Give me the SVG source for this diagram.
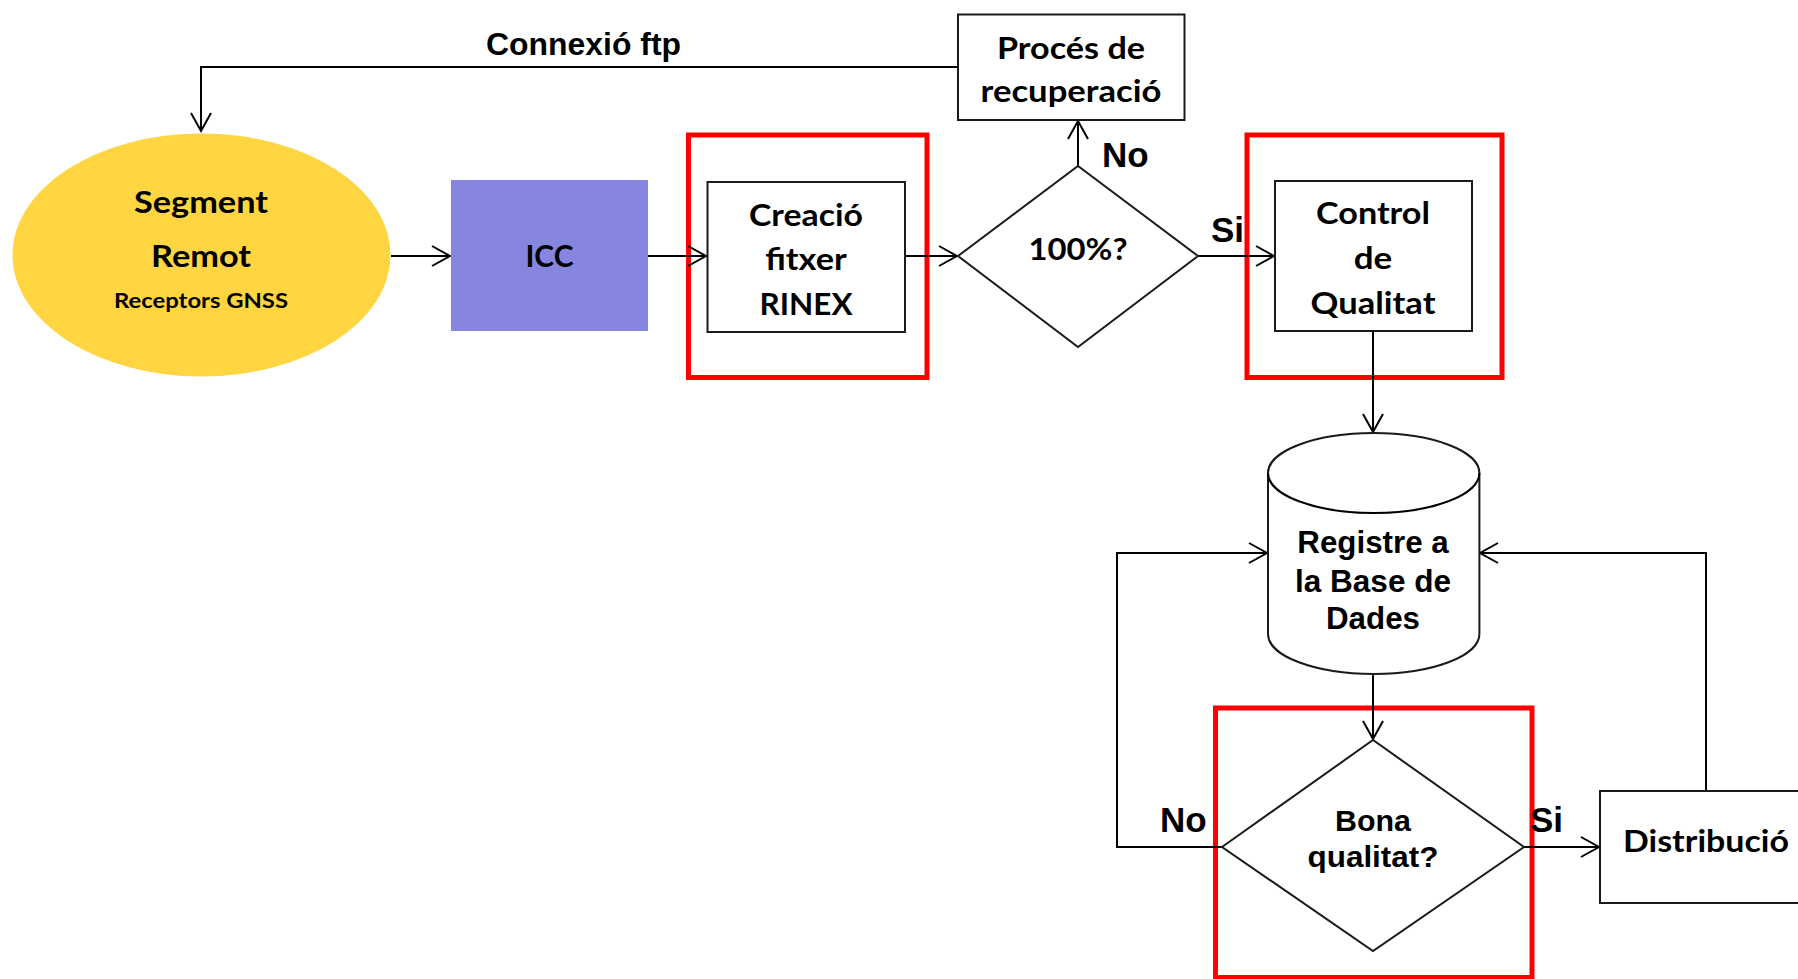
<svg xmlns="http://www.w3.org/2000/svg" width="1798" height="979" viewBox="0 0 1798 979">
<style>
.box{fill:#fff;stroke:#1a1a1a;stroke-width:2}
.red{fill:none;stroke:#ff0000;stroke-width:5}
.ln{fill:none;stroke:#000;stroke-width:2}
.c{font-family:Lato,"Open Sans","Liberation Sans",sans-serif;font-weight:bold;font-size:31px;fill:#000;text-anchor:middle}
.a{font-family:"Liberation Sans",Arial,sans-serif;font-weight:bold;fill:#000}
</style>
<defs>
<marker id="arr" markerUnits="userSpaceOnUse" viewBox="-20 -12 24 24" refX="0" refY="0" markerWidth="24" markerHeight="24" orient="auto">
<path d="M-18,-10 L0,0 L-18,10" fill="none" stroke="#000" stroke-width="2"/>
</marker>
</defs>
<rect width="1798" height="979" fill="#fff"/>

<g id="highlights">
<rect class="red" x="688.5" y="135" width="238.5" height="242.5"/>
<rect class="red" x="1247" y="135" width="255" height="242.5"/>
<rect class="red" x="1215.5" y="708" width="316.5" height="269.5"/>
</g>

<g id="connectors">
<polyline class="ln" points="958,67 201,67 201,131" marker-end="url(#arr)"/>
<line class="ln" x1="391" y1="256" x2="450" y2="256" marker-end="url(#arr)"/>
<line class="ln" x1="648" y1="256" x2="706" y2="256" marker-end="url(#arr)"/>
<line class="ln" x1="905" y1="256" x2="957" y2="256" marker-end="url(#arr)"/>
<line class="ln" x1="1078" y1="166" x2="1078" y2="121" marker-end="url(#arr)"/>
<line class="ln" x1="1198" y1="256" x2="1274" y2="256" marker-end="url(#arr)"/>
<line class="ln" x1="1373" y1="331" x2="1373" y2="432" marker-end="url(#arr)"/>
<line class="ln" x1="1373" y1="674" x2="1373" y2="739" marker-end="url(#arr)"/>
<polyline class="ln" points="1222,847 1117,847 1117,553 1267,553" marker-end="url(#arr)"/>
<line class="ln" x1="1524" y1="847" x2="1599" y2="847" marker-end="url(#arr)"/>
<polyline class="ln" points="1706,791 1706,553 1480,553" marker-end="url(#arr)"/>
</g>

<g id="segment-remot">
<ellipse cx="201.5" cy="255" rx="189" ry="121.5" fill="#ffd541"/>
<text class="c" x="201" y="213" textLength="134" lengthAdjust="spacingAndGlyphs">Segment</text>
<text class="c" x="201" y="267" textLength="100" lengthAdjust="spacingAndGlyphs">Remot</text>
<text class="c" x="201" y="308" style="font-size:21px" textLength="174" lengthAdjust="spacingAndGlyphs">Receptors GNSS</text>
</g>

<g id="icc">
<rect x="451" y="180" width="197" height="151" fill="#8686e0"/>
<text class="c" x="549.5" y="267" textLength="48" lengthAdjust="spacingAndGlyphs">ICC</text>
</g>

<g id="creacio">
<rect class="box" x="707.5" y="182" width="197.5" height="150"/>
<text class="c" x="806" y="226" textLength="114" lengthAdjust="spacingAndGlyphs">Creació</text>
<text class="c" x="806" y="270" textLength="81.5" lengthAdjust="spacingAndGlyphs">fitxer</text>
<text class="c" x="806" y="315" textLength="93" lengthAdjust="spacingAndGlyphs">RINEX</text>
</g>

<g id="proces">
<rect class="box" x="958" y="14.5" width="226.5" height="105.5"/>
<text class="c" x="1071" y="59" textLength="148" lengthAdjust="spacingAndGlyphs">Procés de</text>
<text class="c" x="1071" y="102" textLength="181" lengthAdjust="spacingAndGlyphs">recuperació</text>
</g>

<g id="decision-100">
<polygon class="box" points="958,256 1078,166 1198,256 1078,347"/>
<text class="c" x="1078" y="260" textLength="99" lengthAdjust="spacingAndGlyphs">100%?</text>
</g>

<g id="control">
<rect class="box" x="1275" y="181" width="197" height="150"/>
<text class="c" x="1373" y="224" textLength="114" lengthAdjust="spacingAndGlyphs">Control</text>
<text class="c" x="1373" y="269" textLength="38.5" lengthAdjust="spacingAndGlyphs">de</text>
<text class="c" x="1373" y="314" textLength="125" lengthAdjust="spacingAndGlyphs">Qualitat</text>
</g>

<g id="base-dades">
<path class="box" d="M1268,473 A105.7,40 0 0,1 1479.4,473 L1479.4,634 A105.7,40 0 0,1 1268,634 Z"/>
<path class="ln" d="M1268,473 A105.7,40 0 0,0 1479.4,473"/>
<text class="a" x="1373" y="553" text-anchor="middle" style="font-size:31px" textLength="151.5" lengthAdjust="spacingAndGlyphs">Registre a</text>
<text class="a" x="1373" y="592" text-anchor="middle" style="font-size:31px" textLength="156" lengthAdjust="spacingAndGlyphs">la Base de</text>
<text class="a" x="1373" y="629" text-anchor="middle" style="font-size:31px" textLength="94" lengthAdjust="spacingAndGlyphs">Dades</text>
</g>

<g id="decision-qualitat">
<polygon class="box" points="1222,847 1373,740 1524,847 1373,951"/>
<text class="a" x="1373" y="830.5" text-anchor="middle" style="font-size:29px" textLength="76" lengthAdjust="spacingAndGlyphs">Bona</text>
<text class="a" x="1373" y="867" text-anchor="middle" style="font-size:29px" textLength="131" lengthAdjust="spacingAndGlyphs">qualitat?</text>
</g>

<g id="distribucio">
<path class="box" d="M1800,791 L1600,791 L1600,903 L1800,903"/>
<text class="c" x="1706" y="852" textLength="166" lengthAdjust="spacingAndGlyphs">Distribució</text>
</g>

<g id="labels">
<text class="a" x="486" y="55" style="font-size:32px" textLength="195" lengthAdjust="spacingAndGlyphs">Connexió ftp</text>
<text class="a" x="1102" y="167" style="font-size:35px">No</text>
<text class="a" x="1211" y="242" style="font-size:35px">Si</text>
<text class="a" x="1160" y="832" style="font-size:35px">No</text>
<text class="a" x="1530" y="832" style="font-size:35px">Si</text>
</g>
</svg>
